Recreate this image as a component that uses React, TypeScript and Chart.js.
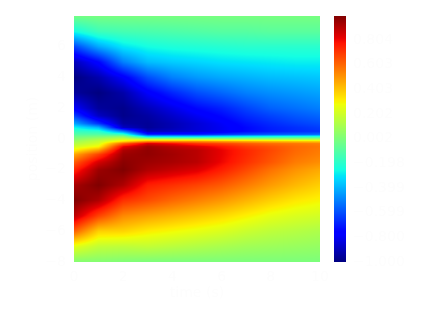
import React, { useEffect, useRef } from "react";
import { Chart, registerables } from "chart.js";

Chart.register(...registerables);

const timeColumns = [0, 1, 2, 3, 4, 5, 6, 7, 8, 9, 10];
const positionRows = [8, 7, 6, 5, 4, 3, 2, 1.5, 1, 0.75, 0.5, 0.3, 0.15, 0, -0.15, -0.3, -0.5, -0.75, -1, -1.5, -2, -3, -4, -5, -6, -7, -8];

const fieldT0 = [-0.02, -0.25, -0.62, -0.9, -1, -0.95, -0.78, -0.62, -0.42, -0.27, -0.17, -0.1, -0.03, 0.02, 0.08, 0.13, 0.21, 0.32, 0.46, 0.62, 0.74, 0.93, 1, 0.9, 0.62, 0.25, 0.02];
const fieldT1 = [-0.01, -0.15, -0.42, -0.75, -0.92, -1, -0.95, -0.88, -0.65, -0.4, -0.2, -0.1, 0, 0.1, 0.17, 0.22, 0.3, 0.5, 0.68, 0.85, 0.95, 1, 0.92, 0.68, 0.38, 0.17, 0.02];
const fieldT2 = [-0.01, -0.13, -0.3, -0.5, -0.78, -0.93, -0.98, -0.98, -0.94, -0.88, -0.5, -0.18, 0.05, 0.2, 0.33, 0.62, 0.82, 0.92, 0.95, 0.98, 1, 0.92, 0.72, 0.53, 0.37, 0.16, 0.01];
const fieldT3 = [-0.01, -0.12, -0.25, -0.38, -0.6, -0.78, -0.9, -0.94, -0.96, -0.96, -0.9, -0.7, -0.3, 0.12, 0.5, 0.85, 0.95, 0.97, 0.97, 0.95, 0.92, 0.76, 0.66, 0.48, 0.32, 0.17, 0];
const fieldT4 = [-0.01, -0.11, -0.23, -0.35, -0.5, -0.68, -0.82, -0.87, -0.91, -0.91, -0.88, -0.7, -0.3, 0.1, 0.5, 0.8, 0.9, 0.93, 0.94, 0.93, 0.88, 0.72, 0.6, 0.44, 0.29, 0.15, 0];
const fieldT5 = [-0.01, -0.1, -0.22, -0.33, -0.45, -0.6, -0.74, -0.8, -0.85, -0.85, -0.85, -0.7, -0.3, 0.1, 0.5, 0.72, 0.85, 0.9, 0.9, 0.9, 0.84, 0.68, 0.55, 0.4, 0.26, 0.13, 0];
const fieldT6 = [-0.01, -0.09, -0.21, -0.31, -0.42, -0.55, -0.69, -0.74, -0.79, -0.8, -0.8, -0.66, -0.27, 0.09, 0.47, 0.68, 0.78, 0.82, 0.82, 0.81, 0.76, 0.63, 0.5, 0.36, 0.23, 0.11, 0];
const fieldT7 = [-0.01, -0.09, -0.2, -0.3, -0.4, -0.5, -0.62, -0.67, -0.72, -0.74, -0.74, -0.62, -0.25, 0.09, 0.44, 0.63, 0.7, 0.74, 0.74, 0.72, 0.67, 0.56, 0.44, 0.31, 0.19, 0.09, 0];
const fieldT8 = [-0.01, -0.08, -0.2, -0.29, -0.38, -0.47, -0.56, -0.62, -0.67, -0.69, -0.7, -0.59, -0.23, 0.08, 0.41, 0.59, 0.65, 0.67, 0.66, 0.64, 0.58, 0.49, 0.38, 0.26, 0.16, 0.08, 0];
const fieldT9 = [-0.01, -0.08, -0.2, -0.28, -0.37, -0.45, -0.53, -0.58, -0.63, -0.66, -0.67, -0.57, -0.21, 0.08, 0.39, 0.57, 0.6, 0.6, 0.59, 0.56, 0.51, 0.43, 0.33, 0.23, 0.14, 0.07, 0];
const fieldT10 = [-0.01, -0.08, -0.2, -0.28, -0.36, -0.43, -0.5, -0.55, -0.6, -0.63, -0.65, -0.55, -0.2, 0.08, 0.38, 0.55, 0.57, 0.56, 0.55, 0.52, 0.46, 0.38, 0.3, 0.21, 0.12, 0.06, 0];
const fieldColumns = [fieldT0, fieldT1, fieldT2, fieldT3, fieldT4, fieldT5, fieldT6, fieldT7, fieldT8, fieldT9, fieldT10];

const xTicks = [0, 2, 4, 6, 8, 10];
const yTicks = [6, 4, 2, 0, -2, -4, -6, -8];
const colorbarTicks = [0.804, 0.603, 0.403, 0.202, 0.002, -0.198, -0.399, -0.599, -0.8, -1];

const X_LABEL = "time (s)";
const Y_LABEL = "position (m)";
const TEXT = "#fdfdfd";
const FONT = "'DejaVu Sans'";

const ramp = (t: number, knots: number[][]) => {
  if (t <= knots[0][0]) return knots[0][1];
  for (let i = 1; i < knots.length; i++) {
    if (t <= knots[i][0]) {
      const [a, u] = knots[i - 1];
      const [b, w] = knots[i];
      return u + ((t - a) / (b - a)) * (w - u);
    }
  }
  return knots[knots.length - 1][1];
};
const R = [[0.35, 0], [0.66, 1], [0.89, 1], [1, 0.5]];
const G = [[0.125, 0], [0.375, 1], [0.64, 1], [0.91, 0]];
const B = [[0, 0.5], [0.11, 1], [0.34, 1], [0.65, 0]];
const jet = (v: number) => {
  const t = Math.min(1, Math.max(0, (v + 1) / 2));
  return [ramp(t, R) * 255, ramp(t, G) * 255, ramp(t, B) * 255];
};

const bracket = (list: number[], v: number, descending: boolean) => {
  for (let i = 0; i < list.length - 1; i++) {
    const a = list[i];
    const b = list[i + 1];
    if (descending ? v >= b : v <= b) return [i, Math.min(1, Math.max(0, (v - a) / (b - a)))];
  }
  return [list.length - 2, 1];
};

const shade = (t: number, y: number) => {
  const [i, fx] = bracket(timeColumns, t, false);
  const [j, fy] = bracket(positionRows, y, true);
  const a = fieldColumns[i][j] * (1 - fx) + fieldColumns[i + 1][j] * fx;
  const b = fieldColumns[i][j + 1] * (1 - fx) + fieldColumns[i + 1][j + 1] * fx;
  return a * (1 - fy) + b * fy;
};

const heatPlugin = {
  id: "heat",
  beforeDatasetsDraw(chart: any) {
    const { ctx, chartArea, scales } = chart;
    const left = Math.round(chartArea.left);
    const top = Math.round(chartArea.top);
    const w = Math.round(chartArea.right) - left;
    const h = Math.round(chartArea.bottom) - top;
    const img = ctx.createImageData(w, h);
    for (let py = 0; py < h; py++) {
      const y = scales.y.getValueForPixel(top + py + 0.5);
      for (let px = 0; px < w; px++) {
        const t = scales.x.getValueForPixel(left + px + 0.5);
        const [r, g, b] = jet(shade(t, y));
        const k = (py * w + px) * 4;
        img.data[k] = r;
        img.data[k + 1] = g;
        img.data[k + 2] = b;
        img.data[k + 3] = 255;
      }
    }
    ctx.putImageData(img, left, top);
    const cb = scales.cb;
    for (let py = 0; py < h; py++) {
      const [r, g, b] = jet(cb.getValueForPixel(top + py + 0.5));
      ctx.fillStyle = `rgb(${r},${g},${b})`;
      ctx.fillRect(334, top + py, 12, 1);
    }
  },
};

const minus = (s: string) => s.replace("-", "\u2212");
const noPad = (s: any) => {
  s.paddingTop = 0;
  s.paddingBottom = 0;
  s.paddingLeft = 0;
  s.paddingRight = 0;
};

export default function App() {
  const ref = useRef<HTMLCanvasElement>(null);
  useEffect(() => {
    const points: { x: number; y: number; v: number }[] = [];
    timeColumns.forEach((x, i) =>
      positionRows.forEach((y, j) => points.push({ x, y, v: fieldColumns[i][j] }))
    );
    const font = { family: FONT, size: 14 };
    const chart = new Chart(ref.current as HTMLCanvasElement, {
      type: "scatter",
      data: { datasets: [{ data: points, pointRadius: 0, pointHoverRadius: 0, xAxisID: "x", yAxisID: "y" }] },
      plugins: [heatPlugin],
      options: {
        responsive: false,
        animation: false,
        layout: { padding: { top: 16, left: 0, right: 0, bottom: 0 } },
        plugins: { legend: { display: false }, tooltip: { enabled: false } },
        scales: {
          x: {
            type: "linear",
            min: 0,
            max: 10,
            grid: { display: false, drawTicks: false },
            border: { display: false },
            afterBuildTicks: (s: any) => { s.ticks = xTicks.map((value) => ({ value })); },
            afterFit: (s: any) => { s.height = 55; noPad(s); },
            ticks: { color: TEXT, font, padding: 7, maxRotation: 0, autoSkip: false, callback: (v: any) => String(v) },
            title: { display: true, text: X_LABEL, color: TEXT, font, padding: { top: 0, bottom: 15.6 } },
          },
          y: {
            type: "linear",
            min: -8,
            max: 8,
            grid: { display: false, drawTicks: false },
            border: { display: false },
            afterBuildTicks: (s: any) => { s.ticks = yTicks.map((value) => ({ value })); },
            afterFit: (s: any) => { s.width = 74; noPad(s); },
            ticks: { color: TEXT, font, padding: 8, autoSkip: false, callback: (v: any) => minus(String(v)) },
            title: { display: true, text: Y_LABEL, color: TEXT, font, padding: { top: 24.6, bottom: 0 } },
          },
          cb: {
            type: "linear",
            position: "right",
            min: -1,
            max: 1,
            grid: { display: false, drawTicks: false },
            border: { display: false },
            afterBuildTicks: (s: any) => { s.ticks = colorbarTicks.map((value) => ({ value })); },
            afterFit: (s: any) => { s.width = 103; noPad(s); },
            ticks: { color: TEXT, font, padding: 33, autoSkip: false, callback: (v: any) => minus(Number(v).toFixed(3)) },
          },
        },
      },
    } as any);
    return () => chart.destroy();
  }, []);
  return (
    <div style={{ position: "absolute", left: 0, top: 0, width: 423, height: 317 }}>
      <canvas ref={ref} width={423} height={317} style={{ display: "block" }} />
    </div>
  );
}
